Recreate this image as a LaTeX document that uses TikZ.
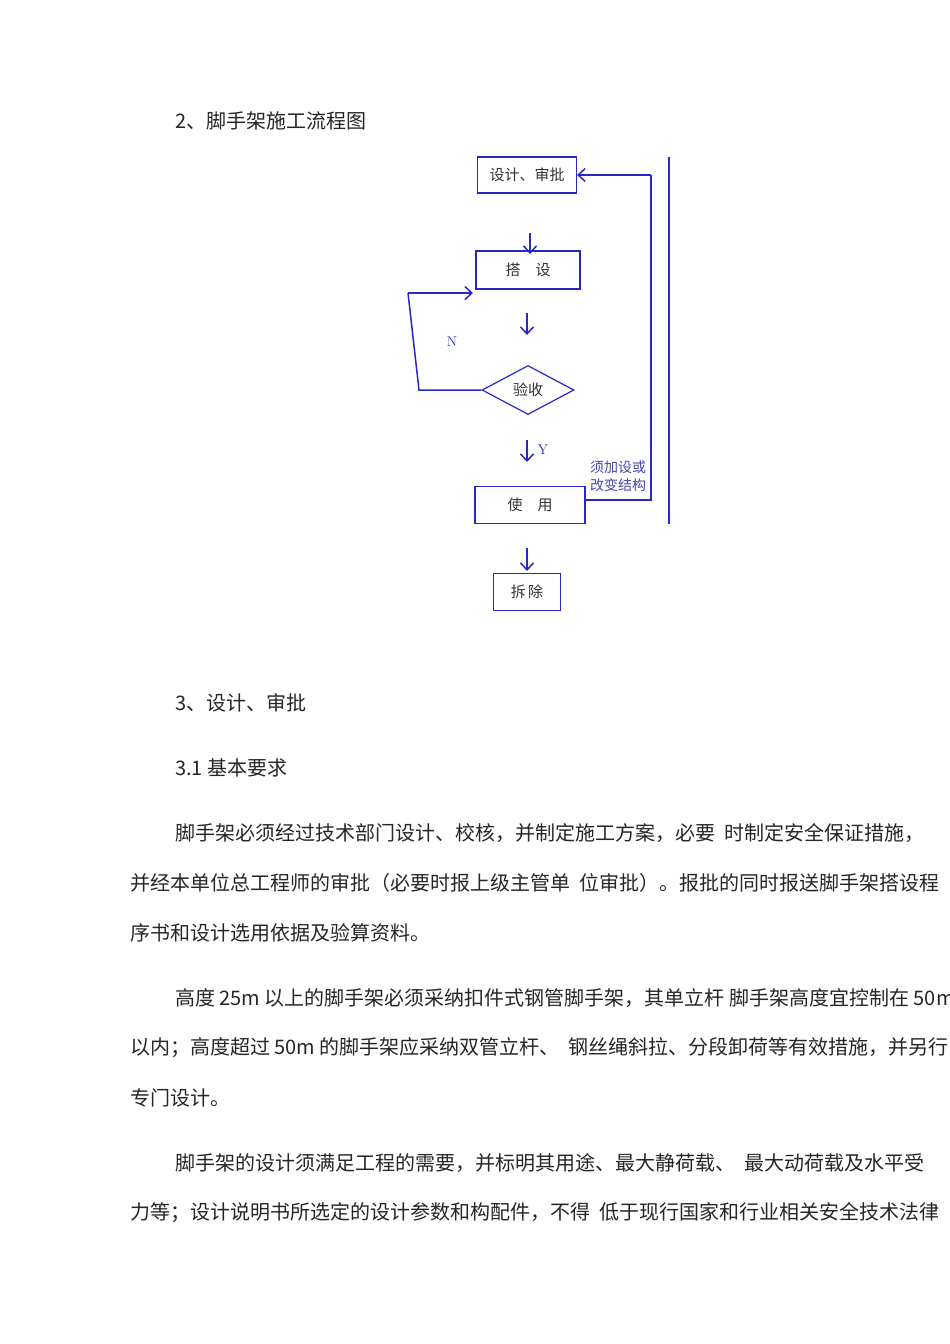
\documentclass[tikz,border=0pt]{standalone}
\usepackage{fontspec}
\newfontfamily\cjk{Noto Sans CJK SC}
\usetikzlibrary{shapes.geometric,arrows.meta}
\definecolor{fb}{RGB}{40,40,200}
\definecolor{lb}{RGB}{70,70,175}
\begin{document}
\begin{tikzpicture}[x=1pt,y=-1pt,
  box/.style={draw=fb,line width=1.2pt,inner sep=0pt,text=black!80,font=\cjk\fontsize{15}{17}\selectfont},
  ar/.style={draw=fb,line width=1.5pt,-{Straight Barb[length=7pt,width=13pt]}},
  ln/.style={draw=fb,line width=1.5pt},
  body/.style={anchor=west,inner sep=0pt,font=\cjk\fontsize{20}{22}\selectfont,text=black!85}]
\useasboundingbox[fill=white] (0,0) rectangle (950,1344);
\node[body] (t2) at (175,121) {2、脚手架施工流程图};
\node[box,minimum width=99pt,minimum height=36pt] (a) at (527,175) {设计、审批};
\node[box,minimum width=104pt,minimum height=38pt] (b) at (528,270) {搭\quad 设};
\node[box,diamond,aspect=1.9,minimum width=92pt,minimum height=49pt] (c) at (528,390) {验收};
\node[box,minimum width=110pt,minimum height=37pt] (d) at (530,505) {使\quad 用};
\node[box,minimum width=67pt,minimum height=37pt] (e) at (527,592) {拆\,除};
\coordinate (a1) at (530,233); \coordinate (a2) at (530,254);
\coordinate (b1) at (527,313); \coordinate (b2) at (527,335);
\coordinate (c1) at (527,440); \coordinate (c2) at (527,462);
\coordinate (d1) at (527,548); \coordinate (d2) at (527,571);
\draw[ar] (a1) -- (a2);
\draw[ar] (b1) -- (b2);
\draw[ar] (c1) -- (c2);
\draw[ar] (d1) -- (d2);
\node[text=fb,font=\fontsize{14}{16}\selectfont] (y) at (543,450) {Y};
\node[text=fb,font=\fontsize{14}{16}\selectfont] (n) at (452,342) {N};
\coordinate (l1) at (419,390); \coordinate (l2) at (408,293); \coordinate (l3) at (473,293);
\draw[ln] (c.west) -- (l1) -- (l2);
\draw[ar] (l2) -- (l3);
\coordinate (r1) at (651,500); \coordinate (r2) at (651,175);
\draw[ln] (d.east |- r1) -- (r1) -- (r2);
\draw[ar] (r2) -- (a.east);
\coordinate (v1) at (669,157); \coordinate (v2) at (669,524);
\draw[ln] (v1) -- (v2);
\node[text=lb,font=\cjk\fontsize{14}{18}\selectfont,align=left,inner sep=0pt] (lab) at (618,476) {须加设或\\改变结构};
\node[body] (t3) at (175,703) {3、设计、审批};
\node[body] (t31) at (175,768) {3.1 基本要求};
\node[body] (p1) at (175,833) {脚手架必须经过技术部门设计、校核，并制定施工方案，必要 \ 时制定安全保证措施，};
\node[body] (p2) at (130,883) {并经本单位总工程师的审批（必要时报上级主管单 \ 位审批）。报批的同时报送脚手架搭设程};
\node[body] (p3) at (130,933) {序书和设计选用依据及验算资料。};
\node[body] (p4) at (175,998) {高度 25m 以上的脚手架必须采纳扣件式钢管脚手架，其单立杆 脚手架高度宜控制在 50m};
\node[body] (p5) at (130,1048) {以内；高度超过 50m 的脚手架应采纳双管立杆、 \ 钢丝绳斜拉、分段卸荷等有效措施，并另行};
\node[body] (p6) at (130,1098) {专门设计。};
\node[body] (p7) at (175,1163) {脚手架的设计须满足工程的需要，并标明其用途、最大静荷载、 \ 最大动荷载及水平受};
\node[body] (p8) at (130,1213) {力等；设计说明书所选定的设计参数和构配件，不得 \ 低于现行国家和行业相关安全技术法律};
\end{tikzpicture}
\end{document}
